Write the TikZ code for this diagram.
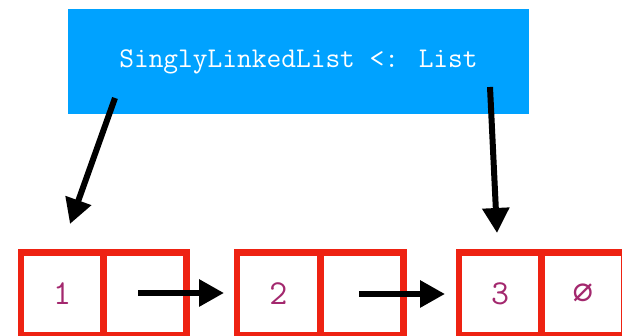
\documentclass[tikz,border=0pt]{standalone}
\usepackage{fontspec}
\newfontfamily\symfont{DejaVu Sans Mono}
\usetikzlibrary{arrows.meta}
\definecolor{hdrblue}{RGB}{0,162,255}
\definecolor{cellred}{RGB}{238,34,18}
\definecolor{valpurple}{RGB}{163,40,110}
\tikzset{
  cell/.style={draw=cellred, line width=6.5pt, minimum width=83pt, minimum height=83pt,
    inner sep=0pt, outer sep=0pt, text=valpurple, font=\ttfamily\fontsize{35}{35}\selectfont},
  arr/.style={line width=6pt, -{Triangle[length=25pt,width=26pt]}},
  hdr/.style={fill=hdrblue, minimum width=461pt, minimum height=105pt, inner sep=0pt,
    text=white, font=\ttfamily\fontsize{28.6}{28.6}\selectfont}
}
\begin{document}
\begin{tikzpicture}[x=1pt,y=-1pt]
\useasboundingbox (0,0) rectangle (622,336);
\node[hdr] (h) at (298.5,61.5) {SinglyLinkedList <: List};
% cells
\node[cell] (a1) at (62.25,294) {1};
\node[cell] (a2) at (145,294) {};
\node[cell] (b1) at (278.5,294) {2};
\node[cell] (b2) at (361.75,294) {};
\node[cell] (c1) at (500.25,294) {3};
\node[cell] (c2) at (582.75,294) {\symfont\fontsize{34}{34}\selectfont ∅};
% arrows between cells
\coordinate (p1) at (138,293);
\coordinate (q1) at (224,293);
\coordinate (p2) at (359,294);
\coordinate (q2) at (445,294);
\draw[arr] (p1) -- (q1);
\draw[arr] (p2) -- (q2);
% arrows from header
\coordinate (s1) at (115,98);
\coordinate (t1) at (70,224);
\coordinate (s2) at (490,87);
\coordinate (t2) at (497,233);
\draw[arr] (s1) -- (t1);
\draw[arr] (s2) -- (t2);
\end{tikzpicture}
\end{document}
